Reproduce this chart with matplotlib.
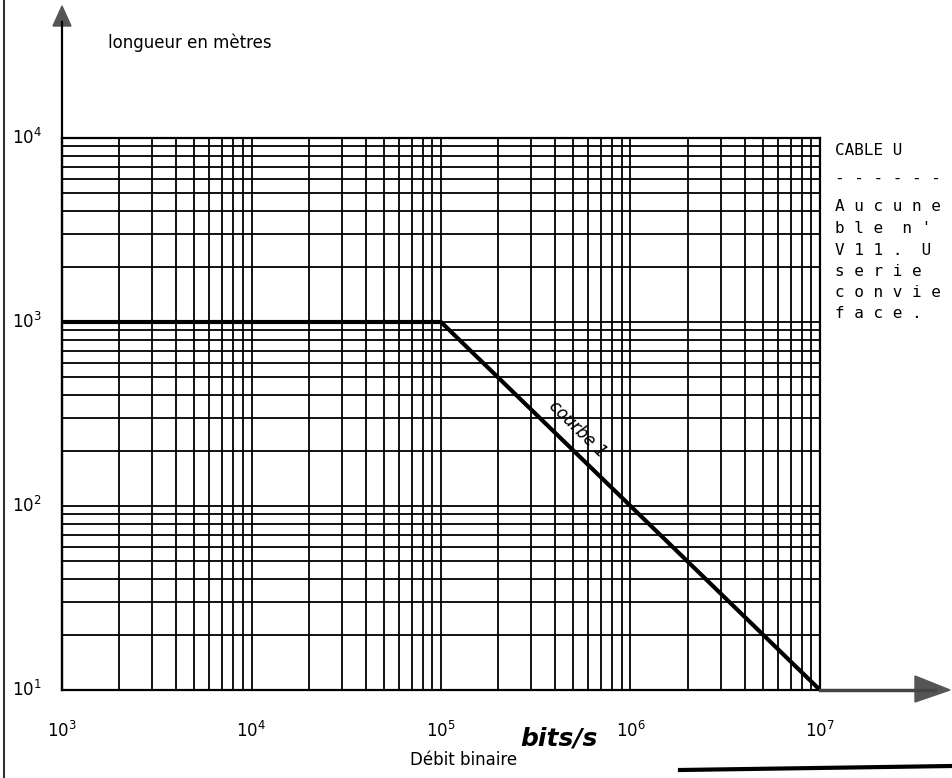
import numpy as np
import matplotlib.pyplot as plt
from matplotlib.lines import Line2D

# courbe 1 : longueur max du cable en fonction du debit
debit = [1e3, 1e5, 1e7]
longueur = [1e3, 1e3, 1e1]

xticks = [1e3, 1e4, 1e5, 1e6, 1e7]
xlabels = ['$10^3$', '$10^4$', '$10^5$', '$10^6$', '$10^7$']
yticks = [1e1, 1e2, 1e3, 1e4]
ylabels = ['$10^1$', '$10^2$', '$10^3$', '$10^4$']

notes = ['CABLE U', '- - - - - -', 'A u c u n e', 'b l e  n \'', 'V 1 1 .  U',
         's e r i e', 'c o n v i e', 'f a c e .']

plt.rcParams['font.family'] = ['DejaVu Sans']
plt.rcParams['mathtext.fontset'] = 'dejavusans'

fig = plt.figure(figsize=(9.52, 7.78), dpi=100)
W, H = 952, 778
ax = fig.add_axes([62 / W, 1 - 690 / H, (820 - 62) / W, (690 - 138) / H])
ax.set_xscale('log')
ax.set_yscale('log')
ax.set_xlim(1e3, 1e7)
ax.set_ylim(1e1, 1e4)

ax.grid(which='both', color='black', lw=1.3)
ax.set_axisbelow(True)
for s in ax.spines.values():
    s.set_linewidth(1.6)
    s.set_color('black')

ax.set_xticks(xticks)
ax.set_xticklabels(xlabels, fontsize=12)
ax.set_yticks(yticks)
ax.set_yticklabels([])
ax.tick_params(which='both', length=0)
ax.tick_params(axis='x', pad=22)
# etiquettes de l'axe vertical, calees pres du bord gauche
for v, lab in zip(yticks, ylabels):
    ax.text(-50 / 758, v, lab, transform=ax.get_yaxis_transform(), fontsize=12,
            ha='left', va='center')

ax.plot(debit, longueur, color='black', lw=3, solid_capstyle='butt', zorder=5)
ax.text(10 ** 5.72, 10 ** 2.42, 'courbe 1', rotation=-44.5, fontsize=12,
        style='italic', ha='center', va='center', rotation_mode='anchor')

# fleches des axes
fig.add_artist(Line2D([62 / W, 62 / W], [1 - 690 / H, 1 - 22 / H], color='black', lw=1.6))
fig.patches.append(plt.Polygon([[53 / W, 1 - 26 / H], [71 / W, 1 - 26 / H], [62 / W, 1 - 6 / H]],
                               closed=True, color='#555555', transform=fig.transFigure))
fig.add_artist(Line2D([820 / W, 935 / W], [1 - 690 / H, 1 - 690 / H], color='#444444', lw=2.5))
fig.patches.append(plt.Polygon([[915 / W, 1 - 676 / H], [950 / W, 1 - 690 / H], [915 / W, 1 - 702 / H]],
                               closed=True, color='#555555', transform=fig.transFigure))

fig.text(108 / W, 1 - 48 / H, 'longueur en mètres', fontsize=12)
fig.text(410 / W, 1 - 765 / H, 'Débit binaire', fontsize=12)
fig.text(520 / W, 1 - 745 / H, 'bits/s', fontsize=18, style='italic', weight='bold')

ys = [147, 175, 203, 225, 247, 268, 289, 310]
for t, y in zip(notes, ys):
    fig.text(835 / W, 1 - (y + 8) / H, t, fontsize=11.5, family='DejaVu Sans Mono', va='baseline')

# bords de la page scannee
fig.add_artist(Line2D([4 / W, 4 / W], [0, 1], color='#333333', lw=1.5))
fig.add_artist(Line2D([680 / W, 952 / W], [1 - 770 / H, 1 - 766 / H], color='black', lw=3))

fig.savefig('out.png', dpi=100)
